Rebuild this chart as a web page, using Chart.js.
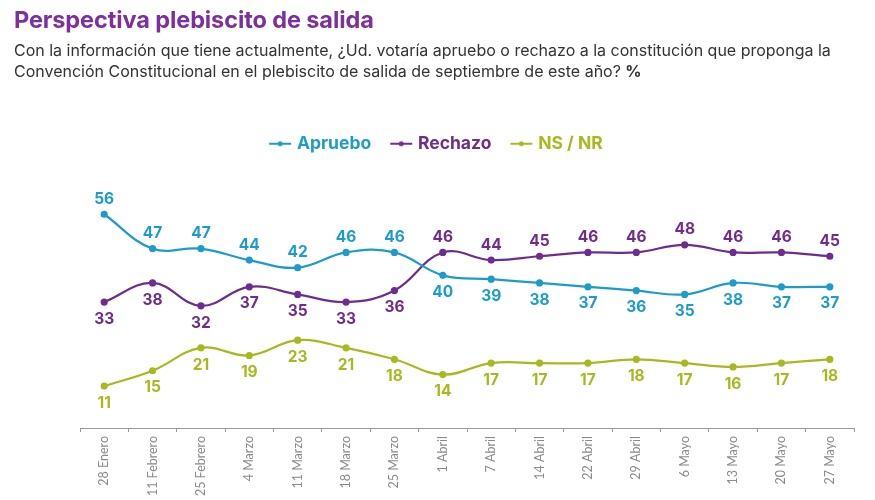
<!DOCTYPE html>
<html><head><meta charset="utf-8">
<script src="https://cdn.jsdelivr.net/npm/chart.js@4.4.1/dist/chart.umd.min.js"></script>
<style>
html,body{margin:0;padding:0;background:#fff;width:875px;height:500px;overflow:hidden;}
#wrap{position:relative;width:875px;height:500px;}
canvas{position:absolute;left:0;top:0;}
#title{position:absolute;left:14px;top:5px;font-family:Inter,sans-serif;font-weight:700;font-size:23.5px;color:#7d2f9e;letter-spacing:-0.1px;}
#sub{position:absolute;left:14px;top:40px;font-family:Inter,sans-serif;font-weight:400;font-size:16px;line-height:21px;color:#333;}
#sub b{font-weight:700;}
</style></head>
<body><div id="wrap">
<canvas id="c" width="875" height="500"></canvas>
<div id="title">Perspectiva plebiscito de salida</div>
<div id="sub">Con la información que tiene actualmente, ¿Ud. votaría apruebo o rechazo a la constitución que proponga la<br>Convención Constitucional en el plebiscito de salida de septiembre de este año? <b>%</b></div>
</div>
<script>
const categories = ["28 Enero","11 Febrero","25 Febrero","4 Marzo","11 Marzo","18 Marzo","25 Marzo","1 Abril","7 Abril","14 Abril","22 Abril","29 Abril","6 Mayo","13 Mayo","20 Mayo","27 Mayo"];
const apruebo = [56,47,47,44,42,46,46,40,39,38,37,36,35,38,37,37];
const rechazo = [33,38,32,37,35,33,36,46,44,45,46,46,48,46,46,45];
const nsnr = [11,15,21,19,23,21,18,14,17,17,17,18,17,16,17,18];
// label placement: 'a' above, 'b' below
const aprueboPos = ["a","a","a","a","a","a","a","b","b","b","b","b","b","b","b","b"];
const rechazoPos = ["b","b","b","b","b","b","b","a","a","a","a","a","a","a","a","a"];
const nsnrPos = ["b","b","b","b","b","b","b","b","b","b","b","b","b","b","b","b"];

const colors = {apruebo:"#1d9ccb", rechazo:"#6f2c8f", nsnr:"#aab81f"};

function icon(color){
  const c = document.createElement('canvas'); c.width=24; c.height=10;
  const x = c.getContext('2d');
  x.strokeStyle=color; x.lineWidth=2; x.beginPath(); x.moveTo(1,5); x.lineTo(23,5); x.stroke();
  x.fillStyle=color; x.beginPath(); x.arc(12,5,2.5,0,Math.PI*2); x.fill();
  return c;
}

const valueLabels = {
  id:'valueLabels',
  afterDatasetsDraw(chart){
    const ctx = chart.ctx;
    ctx.save();
    ctx.font = "700 15.5px Inter, sans-serif";
    ctx.textAlign='center'; ctx.textBaseline='middle';
    chart.data.datasets.forEach((ds,i)=>{
      const meta = chart.getDatasetMeta(i);
      ctx.fillStyle = ds.borderColor;
      meta.data.forEach((pt,j)=>{
        const up = ds.labelPos[j]==='a';
        ctx.fillText(String(ds.data[j]), pt.x, pt.y + (up ? -15 : 17));
      });
    });
    ctx.restore();
  }
};
const legendFit = {
  id:'legendFit',
  beforeInit(chart){
    const orig = chart.legend.fit;
    chart.legend.fit = function(){ orig.call(this); this.height = 86; };
  },
  afterLayout(chart){
    const lg = chart.legend;
    lg.left = 0; lg.right = chart.width; lg.width = chart.width;
  }
};

new Chart(document.getElementById('c'), {
  type:'line',
  data:{
    labels: categories,
    datasets:[
      {label:'Apruebo', data:apruebo, labelPos:aprueboPos, borderColor:colors.apruebo, backgroundColor:colors.apruebo},
      {label:'Rechazo', data:rechazo, labelPos:rechazoPos, borderColor:colors.rechazo, backgroundColor:colors.rechazo},
      {label:'NS / NR', data:nsnr, labelPos:nsnrPos, borderColor:colors.nsnr, backgroundColor:colors.nsnr}
    ].map(d=>Object.assign(d,{borderWidth:2.2, tension:0.4, pointStyle:'circle', pointRadius:2.5, pointHoverRadius:2.5, fill:false}))
  },
  options:{
    responsive:false, animation:false,
    layout:{padding:{top:113,left:80,right:21,bottom:0}},
    plugins:{
      tooltip:{enabled:false},
      legend:{
        position:'top',
        labels:{
          usePointStyle:true, pointStyleWidth:16, padding:22,
          font:{family:'Inter, sans-serif', weight:'700', size:17.5},
          generateLabels(chart){
            return chart.data.datasets.map((ds,i)=>({
              text:ds.label, fontColor:ds.borderColor, pointStyle:icon(ds.borderColor),
              fillStyle:ds.borderColor, strokeStyle:ds.borderColor, lineWidth:0, datasetIndex:i, hidden:false
            }));
          }
        }
      }
    },
    scales:{
      x:{
        offset:true,
        grid:{offset:true, drawOnChartArea:false, drawTicks:true, tickLength:4, color:'#999'},
        border:{display:true, color:'#999', width:1},
        ticks:{minRotation:90, maxRotation:90, autoSkip:false, color:'#8a8a8a', padding:4, font:{family:'Lato, sans-serif', size:12.5, weight:'400'}},
        afterFit(s){ s.height = 72; }
      },
      y:{display:false, min:0, max:60}
    }
  },
  plugins:[valueLabels, legendFit]
});
</script>
</body></html>
